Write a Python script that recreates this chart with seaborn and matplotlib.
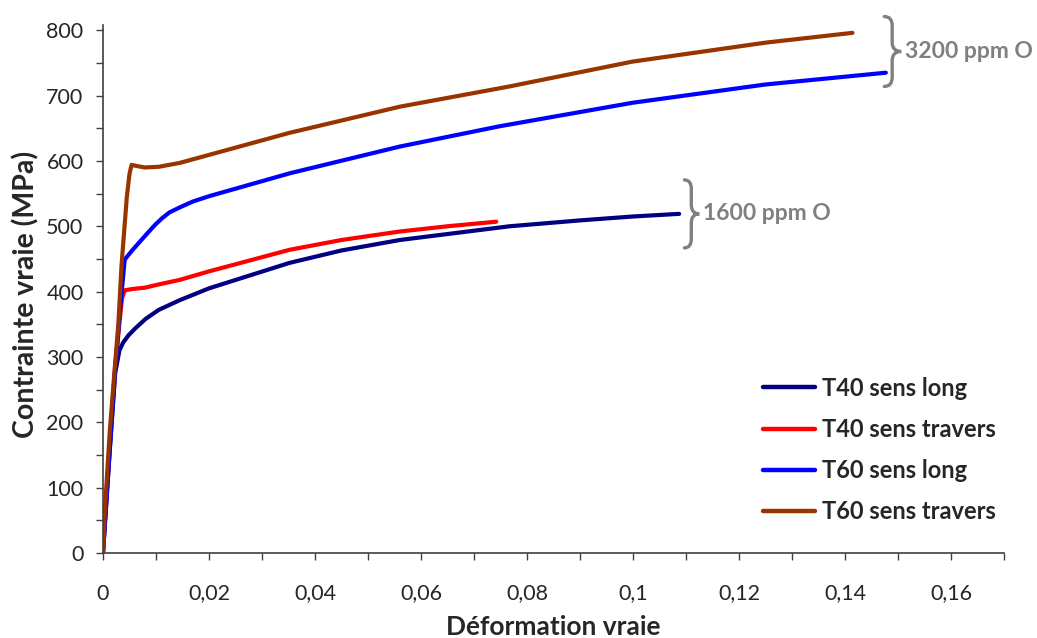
import numpy as np
import pandas as pd
import matplotlib
matplotlib.use('Agg')
import matplotlib.pyplot as plt
from matplotlib.path import Path
from matplotlib.patches import PathPatch
from matplotlib.ticker import MultipleLocator, FuncFormatter
import seaborn as sns

sns.set_style('ticks')
plt.rcParams['font.family'] = ['Lato', 'DejaVu Sans']


#%% data

# T40 sens long
t40_long_x = [0, 0.0013, 0.0023, 0.0031, 0.0038, 0.0048, 0.006, 0.008, 0.0105,
              0.0145, 0.02, 0.0352, 0.045, 0.056, 0.0767, 0.09, 0.1, 0.1087]
t40_long_y = [0, 160, 275, 310, 322, 333, 343, 358, 372,
              387, 405, 444, 463, 479, 500, 509, 515, 519]

# T40 sens travers
t40_trav_x = [0, 0.0013, 0.0023, 0.0032, 0.0036, 0.0041, 0.0055, 0.0079, 0.0105,
              0.0145, 0.02, 0.0352, 0.045, 0.056, 0.065, 0.0742]
t40_trav_y = [0, 170, 285, 360, 390, 402, 404, 406, 411,
              418, 431, 464, 479, 492, 500, 507]

# T60 sens long
t60_long_x = [0, 0.0013, 0.0023, 0.0033, 0.0041, 0.0055, 0.0079, 0.0098, 0.0111,
              0.0125, 0.0145, 0.017, 0.02, 0.0352, 0.056, 0.0748, 0.0999, 0.125,
              0.1477]
t60_long_y = [0, 160, 280, 380, 449, 463, 485, 502, 512,
              521, 529, 538, 546, 581, 622, 653, 689, 717,
              735]

# T60 sens travers
t60_trav_x = [0, 0.0004, 0.0013, 0.0023, 0.0029, 0.0035, 0.0045, 0.005, 0.0054,
              0.0065, 0.0079, 0.0105, 0.0145, 0.0352, 0.056, 0.0767, 0.0999,
              0.125, 0.1414]
t60_trav_y = [0, 71, 188, 291, 350, 440, 545, 580, 594,
              592, 590, 591, 597, 643, 683, 714, 752, 781, 796]

series = ['T40 sens long', 'T40 sens travers', 'T60 sens long', 'T60 sens travers']
colors = ['#000080', '#ff0000', '#0000ff', '#993300']

df = pd.concat([
    pd.DataFrame({'x': t40_long_x, 'y': t40_long_y, 'serie': series[0]}),
    pd.DataFrame({'x': t40_trav_x, 'y': t40_trav_y, 'serie': series[1]}),
    pd.DataFrame({'x': t60_long_x, 'y': t60_long_y, 'serie': series[2]}),
    pd.DataFrame({'x': t60_trav_x, 'y': t60_trav_y, 'serie': series[3]}),
], ignore_index=True)


def brace(ax, x_end, x_spine, x_tip, y_top, y_bot, r):
    # curly brace pointing right, in data coords
    y_mid = (y_top + y_bot) / 2
    verts = [(x_end, y_top), (x_spine, y_top), (x_spine, y_top - r),
             (x_spine, y_mid + r), (x_spine, y_mid), (x_tip, y_mid),
             (x_spine, y_mid), (x_spine, y_mid - r),
             (x_spine, y_bot + r), (x_spine, y_bot), (x_end, y_bot)]
    codes = [Path.MOVETO, Path.CURVE3, Path.CURVE3,
             Path.LINETO, Path.CURVE3, Path.CURVE3,
             Path.CURVE3, Path.CURVE3,
             Path.LINETO, Path.CURVE3, Path.CURVE3]
    patch = PathPatch(Path(verts, codes), fill=False, edgecolor='#808080',
                      lw=2.4, clip_on=False, capstyle='round')
    ax.add_patch(patch)


#%% plot

fig = plt.figure(figsize=(10.37, 6.38), dpi=100)
ax = fig.add_axes([0.0993, 0.1332, 0.8689, 0.8276])

for name, c in zip(series, colors):
    sns.lineplot(data=df[df['serie'] == name], x='x', y='y', color=c,
                 lw=3, sort=False, label=name, ax=ax)

ax.set_xlim(0, 0.17)
ax.set_ylim(0, 808)
ax.xaxis.set_major_locator(MultipleLocator(0.02))
ax.xaxis.set_minor_locator(MultipleLocator(0.01))
ax.yaxis.set_major_locator(MultipleLocator(100))
ax.yaxis.set_minor_locator(MultipleLocator(50))
ax.xaxis.set_major_formatter(FuncFormatter(lambda v, p: ('%g' % round(v, 3)).replace('.', ',')))

ax.tick_params(axis='x', which='both', direction='out', length=5, width=1, pad=17,
               labelsize=15.5, color='#404040')
ax.tick_params(axis='y', which='both', direction='out', length=5, width=1, pad=9,
               labelsize=15.5, color='#404040')
for s in ['left', 'bottom']:
    ax.spines[s].set_color('#404040')
    ax.spines[s].set_linewidth(1.2)
sns.despine(ax=ax)

ax.set_xlabel('Déformation vraie', fontsize=19, fontweight='bold')
ax.set_ylabel('Contrainte vraie (MPa)', fontsize=20.5, fontweight='bold')
ax.xaxis.set_label_coords(0.5, -0.117)
ax.yaxis.set_label_coords(-0.07, 0.49)

leg = ax.legend(loc='upper left', bbox_to_anchor=(0.7325, 0.334), frameon=False,
                fontsize=17, handlelength=2.2, handletextpad=0.3,
                labelspacing=0.77, borderpad=0, borderaxespad=0)
for t in leg.get_texts():
    t.set_fontweight('bold')
for l in leg.get_lines():
    l.set_linewidth(3.2)

# oxygen content braces
brace(ax, 0.1474, 0.1489, 0.1506, 821, 714, 14)
ax.text(0.1513, 767, '3200 ppm O', color='#808080', fontsize=16.5,
        fontweight='bold', va='center', ha='left', clip_on=False)
brace(ax, 0.1097, 0.1110, 0.1125, 571, 467, 14)
ax.text(0.1132, 519, '1600 ppm O', color='#808080', fontsize=16.5,
        fontweight='bold', va='center', ha='left', clip_on=False)

fig.savefig('out.png', dpi=100)
